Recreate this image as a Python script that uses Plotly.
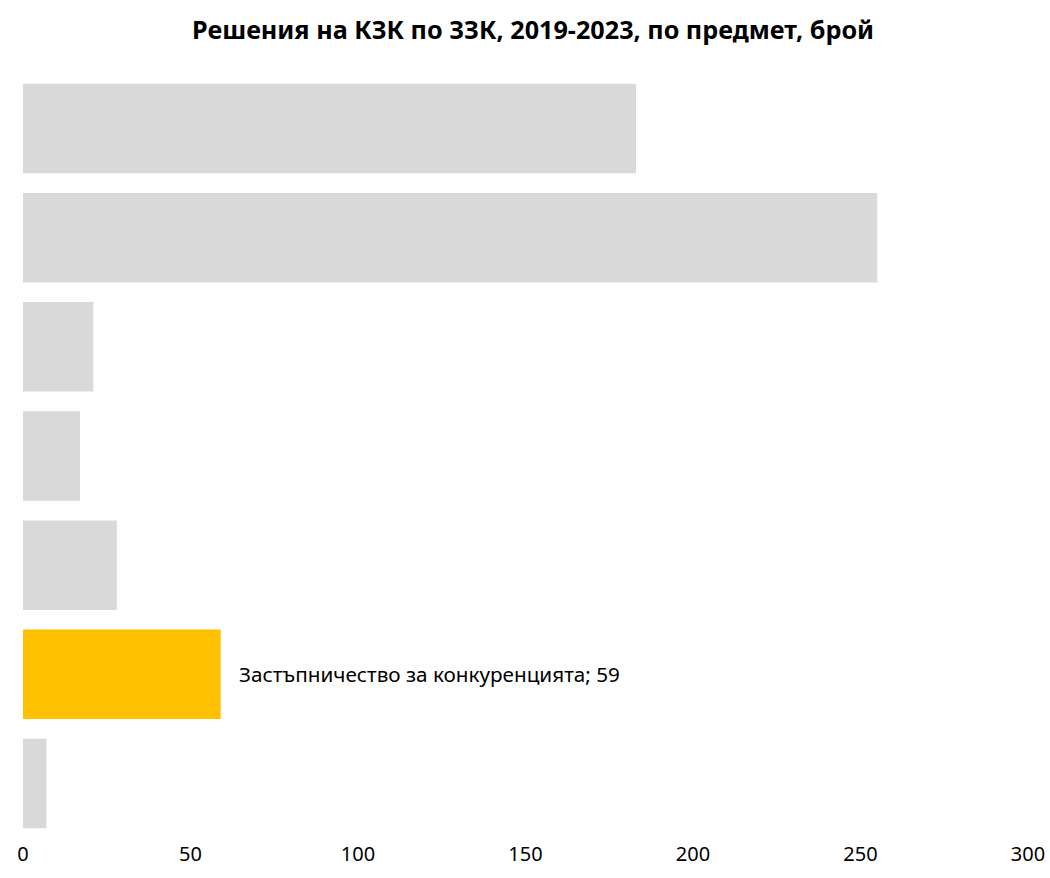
import plotly.graph_objects as go

categories = [
    "Концентрации",
    "Нелоялна конкуренция",
    "Злоупотреба с господстващо положение",
    "Забранени споразумения",
    "Злоупотреба с по-силна позиция при преговори",
    "Застъпничество за конкуренцията",
    "Секторни анализи",
]
values = [183, 255, 21, 17, 28, 59, 7]
highlight = "Застъпничество за конкуренцията"
x_ticks = [0, 50, 100, 150, 200, 250, 300]

colors = ["#FFC000" if c == highlight else "#D9D9D9" for c in categories]

fig = go.Figure(go.Bar(
    x=values, y=categories, orientation="h",
    marker=dict(color=colors, line=dict(width=0)),
    hoverinfo="x+y",
))

hi_idx = categories.index(highlight)
fig.add_annotation(
    x=values[hi_idx], y=highlight, xref="x", yref="y",
    text=f"{highlight}; {values[hi_idx]}",
    showarrow=False, xanchor="left", xshift=16,
    font=dict(family="Noto Sans", size=20.7, color="#000000"),
)

W, H = 1050, 878
fig.update_layout(
    width=W, height=H,
    paper_bgcolor="white", plot_bgcolor="white",
    margin=dict(l=23, r=22, t=74, b=40),
    bargap=0.18,
    showlegend=False,
    title=dict(
        text="<b>Решения на КЗК по ЗЗК, 2019-2023, по предмет, брой</b>",
        x=533 / W, xanchor="center", y=1 - 30 / H, yanchor="middle",
        font=dict(family="Noto Sans", size=25.2, color="#000000"),
    ),
    xaxis=dict(
        range=[0, 300], tickvals=x_ticks, showgrid=False, zeroline=False,
        showline=False, ticks="", automargin=False, ticklabeloverflow="allow",
        ticklabelstandoff=2,
        tickfont=dict(family="Noto Sans", size=20, color="#000000"),
    ),
    yaxis=dict(
        autorange="reversed", showticklabels=False, showgrid=False,
        zeroline=False, showline=False, ticks="", automargin=False,
    ),
)

fig.write_html(
    "out.html",
    config={"displayModeBar": False},
    post_script="document.body.style.margin='0';document.body.style.overflow='hidden';",
)
